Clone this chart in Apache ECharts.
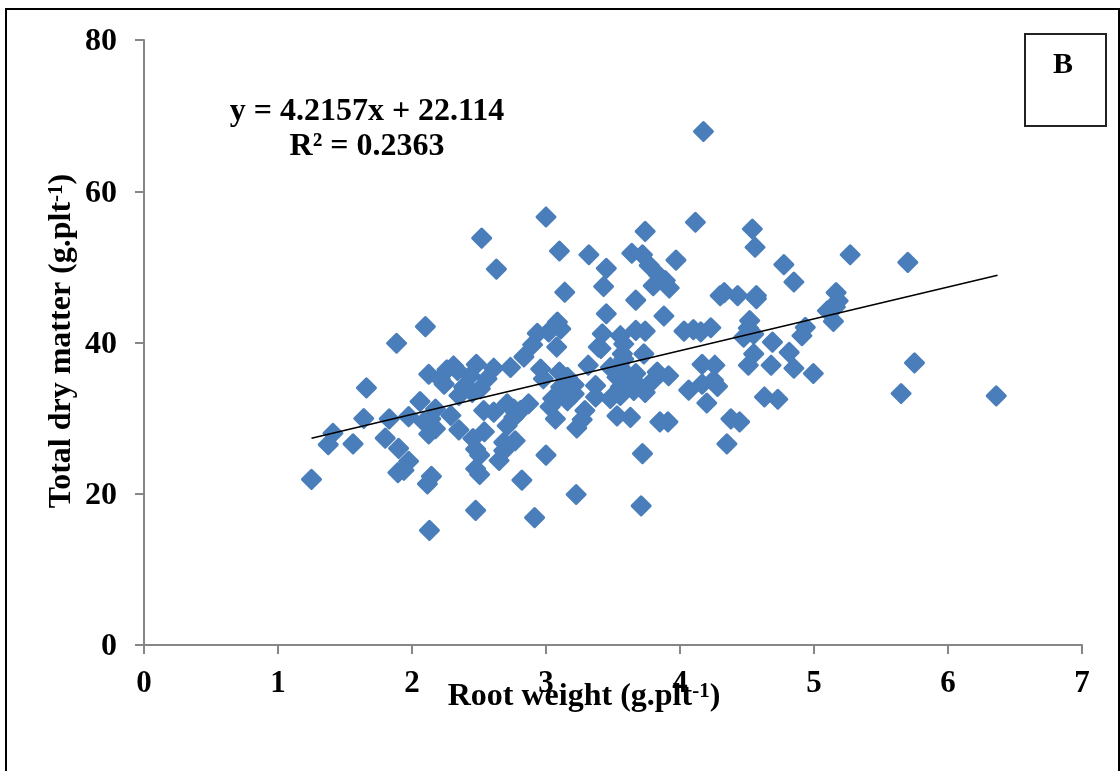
<!DOCTYPE html>
<html>
<head>
<meta charset="utf-8">
<style>html,body{margin:0;padding:0;background:#fff}#c{width:1120px;height:771px}</style>
<script src="https://cdn.jsdelivr.net/npm/echarts@6/dist/echarts.min.js"></script>
</head>
<body>
<div id="c"></div>
<script>
const xTicks = [0,1,2,3,4,5,6,7];
const yTicks = [0,20,40,60,80];
const xTitle = 'Root weight (g.plt';
const yTitle = 'Total dry matter (g.plt';
const equationText = 'y = 4.2157x + 22.114';
const r2Text = 'R² = 0.2363';
const panelLabel = 'B';
const trendLine = [[1.25,27.35],[6.37,48.9]];
const samples = [
[1.25,21.9],[1.375,26.5],[1.41,28.0],[1.56,26.6],[1.64,29.95],[1.66,34.0],[1.885,39.9],[2.10,42.1],
[1.80,27.35],[1.83,29.9],[1.90,26.0],[1.975,24.3],[1.895,22.8],[1.94,23.1],[2.145,22.3],[2.115,21.3],
[2.13,15.15],[2.475,17.8],[2.915,16.85],[2.82,21.8],[3.0,25.1],[3.225,19.9],
[1.975,30.2],[2.06,32.2],[2.09,29.5],[2.125,27.9],[2.175,28.6],[2.14,29.9],[2.175,31.2],[2.29,30.35],[2.35,28.45],
[2.125,35.8],[2.24,34.5],[2.21,35.2],[2.26,36.4],[2.31,36.9],[2.34,36.3],[2.48,37.1],[2.435,35.6],[2.61,36.6],[2.735,36.7],
[2.56,35.2],[2.51,33.9],[2.385,34.1],[2.35,33.0],[2.45,33.4],[2.535,31.0],[2.61,30.8],[2.71,31.9],[2.76,31.2],[2.81,31.0],[2.87,31.9],
[2.76,30.1],[2.71,29.0],[2.54,28.2],[2.455,27.3],[2.475,25.9],[2.505,25.1],[2.475,23.3],[2.505,22.55],[2.77,27.0],[2.685,26.8],[2.685,25.7],[2.65,24.4],
[3.085,42.7],[3.11,41.8],[3.02,41.4],[2.935,41.2],[2.90,39.7],[2.835,38.1],[3.08,39.4],[2.96,36.5],[2.98,35.2],[3.10,36.1],[3.16,35.4],[3.21,34.4],
[3.07,29.9],[3.03,31.5],[3.23,28.7],[3.16,32.3],[3.085,32.6],[3.21,33.2],
[3.74,54.7],[4.115,55.9],[4.54,55.0],[4.56,52.6],[3.10,52.1],[3.32,51.6],[3.64,51.8],[3.72,51.6],[3.97,50.9],[3.77,50.2],[3.84,48.9],[3.89,48.2],
[3.45,49.8],[3.43,47.4],[3.80,47.5],[3.92,47.2],[3.14,46.65],[3.67,45.6],[3.45,43.8],[3.88,43.5],[4.775,50.3],[4.85,48.0],
[4.33,46.6],[4.30,46.2],[4.43,46.2],[4.57,46.2],[4.57,45.8],[4.52,42.9],[4.03,41.5],[4.10,41.7],[4.155,41.4],[4.23,41.95],[4.475,40.7],[4.55,41.1],[4.69,40.05],[4.51,41.9],
[4.935,42.0],[4.91,40.9],[4.55,38.5],[4.51,37.0],[4.68,37.0],[4.815,38.7],[4.85,36.6],[4.995,35.9],[4.63,32.8],[4.73,32.5],
[4.165,37.1],[4.26,37.0],[4.165,34.5],[4.25,35.0],[4.28,34.2],[4.065,33.7],[4.20,32.0],[4.38,29.9],[4.445,29.5],[4.35,26.6],
[3.91,29.5],[3.85,29.5],[3.63,30.1],[3.53,30.3],[3.72,25.3],[3.27,29.8],[3.29,31.0],
[3.42,41.15],[3.39,39.4],[3.41,39.2],[3.555,40.9],[3.67,41.6],[3.74,41.5],[3.58,39.8],[3.73,38.5],[3.57,38.5],[3.315,37.0],
[3.11,34.1],[3.05,32.6],[3.13,33.65],[3.37,34.3],[3.37,32.8],[3.48,32.6],[3.555,33.0],[3.53,35.4],[3.555,36.7],[3.48,36.7],
[3.67,35.9],[3.605,35.0],[3.68,34.5],[3.74,33.4],[3.655,33.65],[3.80,35.0],[3.83,36.1],[3.915,35.6],[3.555,34.1],[3.58,37.8],
[5.27,51.6],[5.70,50.6],[5.165,46.6],[5.18,45.5],[5.10,44.2],[5.16,44.7],[5.145,42.8],[5.75,37.3],[5.65,33.25],[6.36,32.95],
[4.175,67.9],[3.0,56.6],[2.52,53.8],[2.63,49.7],[3.71,18.4]
];
const SERIF = '"Liberation Serif","Times New Roman",serif';
const chart = echarts.init(document.getElementById('c'), null, {renderer:'canvas'});
const axisLine = {show:true, onZero:false, lineStyle:{color:'#868686', width:2}};
const axisTick = {show:true, length:9, lineStyle:{color:'#868686', width:2}};
chart.setOption({
  animation:false,
  backgroundColor:'#fff',
  grid:{left:144, right:38, top:40, bottom:126, containLabel:false},
  xAxis:{type:'value', min:xTicks[0], max:xTicks[xTicks.length-1], interval:1, splitLine:{show:false},
    axisLine, axisTick,
    axisLabel:{color:'#000', fontFamily:SERIF, fontWeight:'bold', fontSize:31, margin:23}},
  yAxis:{type:'value', min:yTicks[0], max:yTicks[yTicks.length-1], interval:20, splitLine:{show:false},
    axisLine, axisTick,
    axisLabel:{color:'#000', fontFamily:SERIF, fontWeight:'bold', fontSize:32, margin:27,
      formatter:'{a|{value}}',
      rich:{a:{color:'#000', fontFamily:SERIF, fontWeight:'bold', fontSize:32, padding:[4,0,0,0]}}}},
  series:[
    {type:'scatter', data:samples, symbol:'diamond', symbolSize:18,
      itemStyle:{color:'#4a7ebb', opacity:1, borderColor:'#4a7ebb', borderWidth:3, borderJoin:'round'}, z:2, silent:true},
    {type:'line', data:trendLine, symbol:'none', lineStyle:{color:'#000', width:1.6}, z:3, silent:true}
  ],
  graphic:[
    {type:'rect', z:0, shape:{x:6,y:9,width:1113,height:790}, style:{fill:'none',stroke:'#000',lineWidth:2}},
    {type:'rect', z:0, shape:{x:1025,y:34,width:81,height:92}, style:{fill:'#fff',stroke:'#222',lineWidth:2}},
    {type:'text', z:10, x:1063, y:65, style:{text:panelLabel, font:'bold 30px '+SERIF, fill:'#000', textAlign:'center', textVerticalAlign:'middle'}},
    {type:'text', z:10, x:367, y:112, style:{text:equationText, font:'bold 32px '+SERIF, fill:'#000', textAlign:'center', textVerticalAlign:'middle'}},
    {type:'text', z:10, x:367, y:147, style:{text:r2Text, font:'bold 32px '+SERIF, fill:'#000', textAlign:'center', textVerticalAlign:'middle'}},
    {type:'text', z:10, x:584, y:697, style:{
      text:'{m|'+xTitle+'}{s|-1}{m|)}', textAlign:'center', textVerticalAlign:'middle',
      rich:{m:{font:'bold 32px '+SERIF, color:'#000'}, s:{font:'bold 21px '+SERIF, color:'#000', verticalAlign:'top', padding:[0,0,10,0]}}
    }},
    {type:'text', z:10, x:62, y:341, rotation:Math.PI/2, style:{
      text:'{m|'+yTitle+'}{s|-1}{m|)}', textAlign:'center', textVerticalAlign:'middle',
      rich:{m:{font:'bold 32px '+SERIF, color:'#000'}, s:{font:'bold 21px '+SERIF, color:'#000', verticalAlign:'top', padding:[0,0,10,0]}}
    }}
  ]
});
</script>
</body>
</html>
